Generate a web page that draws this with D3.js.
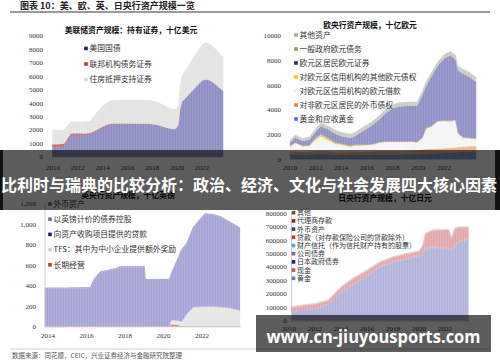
<!DOCTYPE html>
<html>
<head>
<meta charset="utf-8">
<script src="https://cdn.jsdelivr.net/npm/d3@7"></script>
<style>
  body { margin: 0; background: #fff; }
  svg { display: block; }
  .cn { font-family: "Noto Sans CJK SC", sans-serif; }
  .num { font-family: "Liberation Serif", serif; }
</style>
</head>
<body>
<script>
// ---- data: Fed (十亿美元) ----
var fedYears = [2009.95, 2010.5, 2010.9, 2011.1, 2011.4, 2011.5, 2012.0, 2012.5, 2013.0, 2013.5, 2014.0, 2014.5, 2014.85, 2016.0, 2017.0, 2017.8, 2018.5, 2019.2, 2019.7, 2019.9, 2020.1, 2020.25, 2020.4, 2021.0, 2021.5, 2022.0, 2022.3, 2022.6, 2023.0, 2023.7];
var fedTreasury = [780, 780, 850, 1150, 1600, 1650, 1660, 1660, 1700, 1950, 2200, 2400, 2450, 2460, 2460, 2460, 2350, 2150, 2050, 2100, 2400, 3600, 4100, 4700, 5200, 5650, 5750, 5700, 5450, 4900];
var fedAgency = [160, 160, 150, 130, 110, 110, 100, 90, 75, 60, 55, 45, 40, 30, 10, 5, 3, 2, 2, 2, 2, 2, 2, 2, 2, 2, 2, 2, 2, 2];
var fedMbs = [1080, 1050, 1000, 950, 900, 880, 850, 850, 900, 1250, 1550, 1700, 1730, 1730, 1760, 1760, 1700, 1550, 1500, 1450, 1450, 1800, 1950, 2200, 2450, 2650, 2750, 2700, 2650, 2500];

// ---- data: ECB (十亿欧元) ----
var ecbYears = [2010.0, 2010.4, 2011.0, 2011.5, 2012.0, 2012.4, 2013.0, 2013.5, 2014.0, 2014.7, 2015.0, 2015.5, 2016.0, 2016.5, 2017.0, 2017.5, 2018.0, 2018.5, 2019.0, 2019.5, 2019.9, 2020.3, 2020.6, 2021.0, 2021.5, 2022.0, 2022.5, 2022.9, 2023.1, 2023.5, 2024.0, 2024.5];
var ecbGold = [350, 380, 370, 380, 420, 430, 400, 330, 340, 340, 350, 360, 360, 380, 380, 380, 380, 380, 400, 420, 450, 480, 500, 500, 510, 520, 540, 560, 580, 600, 620, 650];
var ecbForeign = [230, 240, 230, 240, 260, 260, 250, 240, 240, 250, 260, 260, 270, 280, 280, 280, 280, 280, 290, 300, 300, 320, 340, 350, 360, 380, 390, 400, 410, 420, 430, 430];
var ecbLoans = [450, 700, 450, 450, 900, 1150, 900, 700, 600, 430, 500, 500, 520, 550, 700, 750, 750, 740, 720, 690, 620, 900, 1650, 1800, 2200, 2200, 2150, 2200, 1100, 700, 650, 570];
var ecbOtherClaims = [50, 50, 50, 60, 150, 200, 150, 100, 80, 80, 60, 50, 40, 40, 40, 40, 40, 40, 40, 40, 40, 40, 40, 40, 40, 40, 40, 40, 40, 40, 40, 40];
var ecbSecurities = [265, 375, 375, 445, 495, 635, 725, 705, 615, 625, 655, 1005, 1285, 1575, 1875, 2325, 2675, 2835, 2875, 2875, 2915, 3435, 3445, 3985, 4465, 5035, 5305, 4895, 5045, 5165, 4935, 4585];
var ecbGovDebt = [25, 25, 25, 25, 25, 25, 25, 25, 25, 25, 25, 25, 25, 25, 25, 25, 25, 25, 25, 25, 25, 25, 25, 25, 25, 25, 25, 25, 25, 25, 25, 25];
var ecbOther = [200, 200, 200, 200, 250, 250, 250, 300, 300, 300, 300, 300, 300, 300, 300, 300, 300, 300, 300, 300, 300, 300, 300, 300, 300, 300, 300, 330, 350, 350, 350, 350];

// ---- data: BoE (十亿英镑) ----
var boeYears = [2013.84, 2014.9, 2015.0, 2016.2, 2016.4, 2016.7, 2017.5, 2017.74, 2019.0, 2019.05, 2020.3, 2020.4, 2020.7, 2020.95, 2021.2, 2021.55, 2022.15, 2022.6, 2023.0, 2023.45, 2023.97];
var boeLongTerm = [0, 0, 8, 8, 3, 3, 2, 2, 2, 2, 5, 25, 20, 5, 2, 2, 2, 2, 2, 2, 2];
var boeTfs = [0, 0, 0, 0, 0, 0, 0, 0, 0, 0, 0, 40, 40, 45, 120, 190, 195, 195, 190, 180, 160];
var boeApf = [370, 370, 364, 367, 457, 525, 558, 578, 578, 454, 451, 445, 580, 700, 683, 776, 901, 893, 873, 835, 798];
var boeBonds = [5, 5, 5, 5, 5, 5, 5, 5, 5, 5, 5, 5, 5, 5, 5, 5, 5, 5, 5, 5, 5];
var boeForeign = [5, 5, 5, 5, 5, 5, 5, 5, 5, 5, 5, 5, 5, 5, 5, 5, 5, 5, 5, 5, 5];

// ---- data: BoJ (十亿日元) ----
var bojYears = [2010.2, 2011.0, 2012.0, 2013.0, 2013.5, 2014.0, 2015.0, 2016.0, 2017.0, 2018.0, 2019.0, 2020.0, 2020.3, 2020.5, 2021.0, 2022.0, 2022.3, 2022.45, 2022.6, 2022.75, 2023.0, 2023.8];
var bojGold = [441, 441, 441, 441, 441, 441, 441, 441, 441, 441, 441, 441, 441, 441, 441, 441, 441, 441, 441, 441, 441, 441];
var bojCash = [300, 300, 300, 300, 300, 300, 300, 300, 300, 300, 300, 300, 300, 300, 300, 300, 300, 300, 300, 300, 300, 300];
var bojJgb = [66300, 74300, 84300, 116300, 154300, 203300, 265300, 322300, 396300, 426300, 451300, 476300, 489300, 526300, 538300, 526300, 521300, 514300, 519300, 544300, 575300, 595300];
var bojCorp = [3000, 3000, 3500, 4000, 4500, 5000, 5000, 5500, 6000, 6000, 6000, 7000, 8000, 9000, 9000, 9000, 9000, 9000, 9000, 9000, 8000, 8000];
var bojTrust = [1000, 1500, 2000, 2500, 3000, 3500, 4000, 5000, 6000, 6500, 7000, 7000, 7500, 8000, 8000, 8000, 8000, 8000, 8000, 8000, 8000, 8000];
var bojLoans = [25900, 30400, 31400, 23400, 34400, 33400, 40900, 37400, 23900, 30400, 29900, 20900, 51400, 99900, 112900, 129900, 133900, 85900, 95900, 120900, 100900, 80900];
var bojForeign = [5000, 5000, 5000, 5000, 5000, 5000, 5000, 5000, 5000, 5000, 5000, 5000, 5000, 5000, 5000, 5000, 5000, 5000, 5000, 5000, 5000, 5000];
var bojAgency = [100, 100, 100, 100, 100, 100, 100, 100, 100, 100, 100, 100, 100, 100, 100, 100, 100, 100, 100, 100, 100, 100];
var bojOther = [2000, 2000, 2000, 2000, 2000, 2000, 2000, 2000, 2000, 2000, 2000, 2000, 2000, 2000, 2000, 2000, 2000, 2000, 2000, 2000, 2000, 2000];

var svg = d3.select("body").append("svg").attr("width", 500).attr("height", 362);

// thin vertical stripes, like the bars in the original chart
var pat = svg.append("defs").append("pattern")
    .attr("id", "stripes")
    .attr("patternUnits", "userSpaceOnUse")
    .attr("width", 1.6).attr("height", 8);
pat.append("rect")
    .attr("x", 0).attr("y", 0).attr("width", 0.45).attr("height", 8)
    .attr("fill", "#fff").attr("fill-opacity", 0.28);

function rowsOf(years, series){
  return years.map(function(t, i){
    var r = {t: t};
    series.forEach(function(s){ r[s.key] = s.values[i]; });
    return r;
  });
}

function drawPanel(p){
  var g = svg.append("g");
  var x = d3.scaleLinear().domain(p.xDomain).range(p.xRange);
  var y = d3.scaleLinear().domain(p.yDomain).range(p.yRange);
  var rows = rowsOf(p.years, p.series);
  var stack = d3.stack().keys(p.series.map(function(s){ return s.key; }))(rows);
  var area = d3.area()
      .x(function(d){ return x(d.data.t); })
      .y0(function(d){ return y(d[0]); })
      .y1(function(d){ return y(d[1]); });

  g.selectAll(".layer")
      .data(stack)
    .enter().append("path")
      .attr("class", "layer")
      .attr("d", area)
      .attr("fill", function(d, i){ return p.series[i].fill; })
      .attr("stroke", function(d, i){ return p.series[i].fill; })
      .attr("stroke-width", 0.3);

  g.selectAll(".tex")
      .data(stack)
    .enter().append("path")
      .attr("class", "tex")
      .attr("d", area)
      .attr("fill", "url(#stripes)");

  if (p.axisLine){
    g.append("line")
        .attr("x1", p.axisX).attr("x2", p.axisX)
        .attr("y1", p.yRange[1]).attr("y2", p.yRange[0])
        .attr("stroke", "#c4c4c4").attr("stroke-width", 0.8);
    g.append("line")
        .attr("x1", p.axisX).attr("x2", p.xEnd)
        .attr("y1", p.yRange[0]).attr("y2", p.yRange[0])
        .attr("stroke", "#c4c4c4").attr("stroke-width", 0.8);
  }

  var fmt = p.yFormat || function(d){ return d; };
  g.selectAll(".ytick")
      .data(d3.range(p.yDomain[0], p.yDomain[1] + 1, p.yStep))
    .enter().append("text")
      .attr("class", "num")
      .attr("x", p.yLabelX)
      .attr("y", function(d){ return y(d); })
      .attr("dy", "0.35em")
      .attr("text-anchor", "end")
      .attr("font-size", 7)
      .attr("fill", "#333")
      .text(fmt);

  g.selectAll(".xtick")
      .data(p.xTicks)
    .enter().append("text")
      .attr("class", "num")
      .attr("x", function(d){ return x(d); })
      .attr("y", p.xLabelY)
      .attr("text-anchor", "middle")
      .attr("font-size", 7)
      .attr("fill", "#333")
      .text(function(d){ return d; });

  g.append("text")
      .attr("class", "cn")
      .attr("x", p.titleX)
      .attr("y", p.titleY)
      .attr("text-anchor", "middle")
      .attr("font-size", 7.8)
      .attr("font-weight", "bold")
      .attr("fill", "#111")
      .text(p.title);

  var leg = g.selectAll(".leg")
      .data(p.legend)
    .enter().append("g")
      .attr("transform", function(d, i){ return "translate(" + p.legendX + "," + (p.legendY + i * p.legendGap) + ")"; });
  leg.append("rect")
      .attr("x", -1.8).attr("y", -1.8)
      .attr("width", 3.6).attr("height", 3.6)
      .attr("fill", function(d){ return d.color; });
  leg.append("text")
      .attr("class", "cn")
      .attr("x", 3.5)
      .attr("dy", "0.35em")
      .attr("font-size", p.legendFont)
      .attr("fill", "#333")
      .text(function(d){ return d.name; });
}

// ---- header ----
svg.append("text")
    .attr("class", "cn")
    .attr("x", 20).attr("y", 9)
    .attr("font-size", 9).attr("font-weight", "bold").attr("fill", "#222")
    .text("图表 10：美、欧、英、日央行资产规模一览");
svg.append("line")
    .attr("x1", 10).attr("x2", 490).attr("y1", 12).attr("y2", 12)
    .attr("stroke", "#9a9a9a").attr("stroke-width", 1.8);

drawPanel({
  years: fedYears,
  series: [
    {key: "tsy", values: fedTreasury, fill: "#8b8bc1"},
    {key: "agy", values: fedAgency, fill: "#d9534f"},
    {key: "mbs", values: fedMbs, fill: "#e2e2e2"}
  ],
  xDomain: [2010, 2022], xRange: [53, 202],
  yDomain: [0, 9000], yRange: [157, 35.7], yStep: 1000,
  yLabelX: 43, xTicks: [2010, 2012, 2014, 2016, 2018, 2020, 2022], xLabelY: 169.5,
  title: "美联储资产规模：持有证券，十亿美元", titleX: 131, titleY: 33,
  legendX: 86, legendY: 48.5, legendGap: 15.5, legendFont: 7.8,
  legend: [
    {name: "美国国债", color: "#1f1f6e"},
    {name: "联邦机构债务证券", color: "#c0392b"},
    {name: "住房抵押支持证券", color: "#d9d9d9"}
  ]
});

drawPanel({
  years: ecbYears,
  series: [
    {key: "gold", values: ecbGold, fill: "#7f97cc"},
    {key: "fx", values: ecbForeign, fill: "#f3b386"},
    {key: "loans", values: ecbLoans, fill: "#f4f4f4"},
    {key: "claims", values: ecbOtherClaims, fill: "#f5c84e"},
    {key: "sec", values: ecbSecurities, fill: "#8e8ec5"},
    {key: "gov", values: ecbGovDebt, fill: "#9cc47e"},
    {key: "other", values: ecbOther, fill: "#c9c9c9"}
  ],
  xDomain: [2010, 2022], xRange: [290, 444],
  yDomain: [0, 10000], yRange: [159.3, 36], yStep: 2000,
  yLabelX: 281, xTicks: [2010, 2012, 2014, 2016, 2018, 2020, 2022], xLabelY: 169.5,
  title: "欧央行资产规模，十亿欧元", titleX: 370, titleY: 28,
  legendX: 296, legendY: 35, legendGap: 14, legendFont: 7.8,
  legend: [
    {name: "其他资产", color: "#a5a5a5"},
    {name: "一般政府欧元债务", color: "#70ad47"},
    {name: "欧元区居民欧元证券", color: "#1f2a6e"},
    {name: "对欧元区信用机构的其他欧元债权", color: "#ffc000"},
    {name: "对欧元区信用机构的欧元借款", color: "#f0f0f0"},
    {name: "对非欧元区居民的外币债权", color: "#ed7d31"},
    {name: "黄金和应收黄金", color: "#4472c4"}
  ]
});

drawPanel({
  years: boeYears,
  series: [
    {key: "lt", values: boeLongTerm, fill: "#e07a7a"},
    {key: "tfs", values: boeTfs, fill: "#e6e6e6"},
    {key: "apf", values: boeApf, fill: "#a4a2d4"},
    {key: "bonds", values: boeBonds, fill: "#a4a2d4"},
    {key: "fx", values: boeForeign, fill: "#a4a2d4"}
  ],
  xDomain: [2014, 2022], xRange: [48, 202],
  yDomain: [0, 1200], yRange: [326.7, 204], yStep: 200, yFormat: d3.format(","),
  yLabelX: 36, xTicks: [2014, 2016, 2018, 2020, 2022], xLabelY: 338,
  axisLine: true, axisX: 45, xEnd: 241,
  title: "英央行资产规模，十亿英镑", titleX: 128, titleY: 198,
  legendX: 50, legendY: 204, legendGap: 15.2, legendFont: 7.8,
  legend: [
    {name: "外币资产", color: "#31849b"},
    {name: "以英镑计价的债券控股", color: "#8064a2"},
    {name: "向资产收购项目提供的贷款", color: "#1f1f6e"},
    {name: "TFS：其中为中小企业提供额外奖励", color: "#d0d0d0"},
    {name: "长期经营", color: "#c0392b"}
  ]
});

drawPanel({
  years: bojYears,
  series: [
    {key: "gold", values: bojGold, fill: "#b1b1db"},
    {key: "cash", values: bojCash, fill: "#b1b1db"},
    {key: "jgb", values: bojJgb, fill: "#b1b1db"},
    {key: "corp", values: bojCorp, fill: "#b1b1db"},
    {key: "trust", values: bojTrust, fill: "#c9b5c9"},
    {key: "loans", values: bojLoans, fill: "#e2a6a9"},
    {key: "fx", values: bojForeign, fill: "#e6b4b6"},
    {key: "agency", values: bojAgency, fill: "#e6b4b6"},
    {key: "other", values: bojOther, fill: "#d8d8de"}
  ],
  xDomain: [2010, 2022], xRange: [289, 445],
  yDomain: [0, 800000], yRange: [320.7, 213.3], yStep: 100000,
  yLabelX: 286.7, xTicks: [2010, 2012, 2014, 2016, 2018, 2020, 2022], xLabelY: 331,
  axisLine: true, axisX: 291.5, xEnd: 470,
  title: "日央行资产规模，十亿日元", titleX: 385, titleY: 201,
  legendX: 293.5, legendY: 212.7, legendGap: 8.2, legendFont: 7,
  legend: [
    {name: "其他", color: "#4f6228"},
    {name: "代理商存款", color: "#7b2c2c"},
    {name: "外币资产", color: "#1f497d"},
    {name: "贷款（对存款保险公司的贷款除外）", color: "#c0392b"},
    {name: "财产信托（作为信托财产持有的股票）", color: "#4bacc6"},
    {name: "公司债券", color: "#8064a2"},
    {name: "日本政府债券", color: "#1f1f6e"},
    {name: "现金", color: "#c0504d"},
    {name: "黄金", color: "#4f81bd"}
  ]
});

// ---- footer ----
svg.append("line")
    .attr("x1", 10).attr("x2", 490).attr("y1", 349).attr("y2", 349)
    .attr("stroke", "#c8c8c8").attr("stroke-width", 0.8);
svg.append("text")
    .attr("class", "cn")
    .attr("x", 12).attr("y", 357.5)
    .attr("font-size", 6.5).attr("fill", "#555")
    .text("数据来源：同花顺，CEIC，兴业证券经济与金融研究院整理");

// ---- overlay banner ----
svg.append("rect").attr("x", 0).attr("y", 150).attr("width", 500).attr("height", 60)
    .attr("fill", "#000").attr("fill-opacity", 0.64);
svg.append("rect").attr("x", 0).attr("y", 150).attr("width", 3).attr("height", 60).attr("fill", "#111");
svg.append("rect").attr("x", 495).attr("y", 150).attr("width", 5).attr("height", 60).attr("fill", "#111");
svg.append("text")
    .attr("class", "cn")
    .attr("x", 249).attr("y", 190.5)
    .attr("text-anchor", "middle")
    .attr("font-size", 16).attr("font-weight", "bold").attr("fill", "#fff")
    .text("比利时与瑞典的比较分析：政治、经济、文化与社会发展四大核心因素");

// ---- watermark ----
svg.append("rect").attr("x", 256).attr("y", 315).attr("width", 235).attr("height", 37)
    .attr("fill", "#000").attr("fill-opacity", 0.64);
svg.append("text")
    .attr("x", 373.5).attr("y", 342.5)
    .attr("text-anchor", "middle")
    .attr("font-family", "'Open Sans', sans-serif")
    .attr("font-size", 17).attr("font-weight", "bold").attr("fill", "#fff")
    .attr("textLength", 214).attr("lengthAdjust", "spacingAndGlyphs")
    .text("www.cn-jiuyousports.com");
</script>
</body>
</html>
